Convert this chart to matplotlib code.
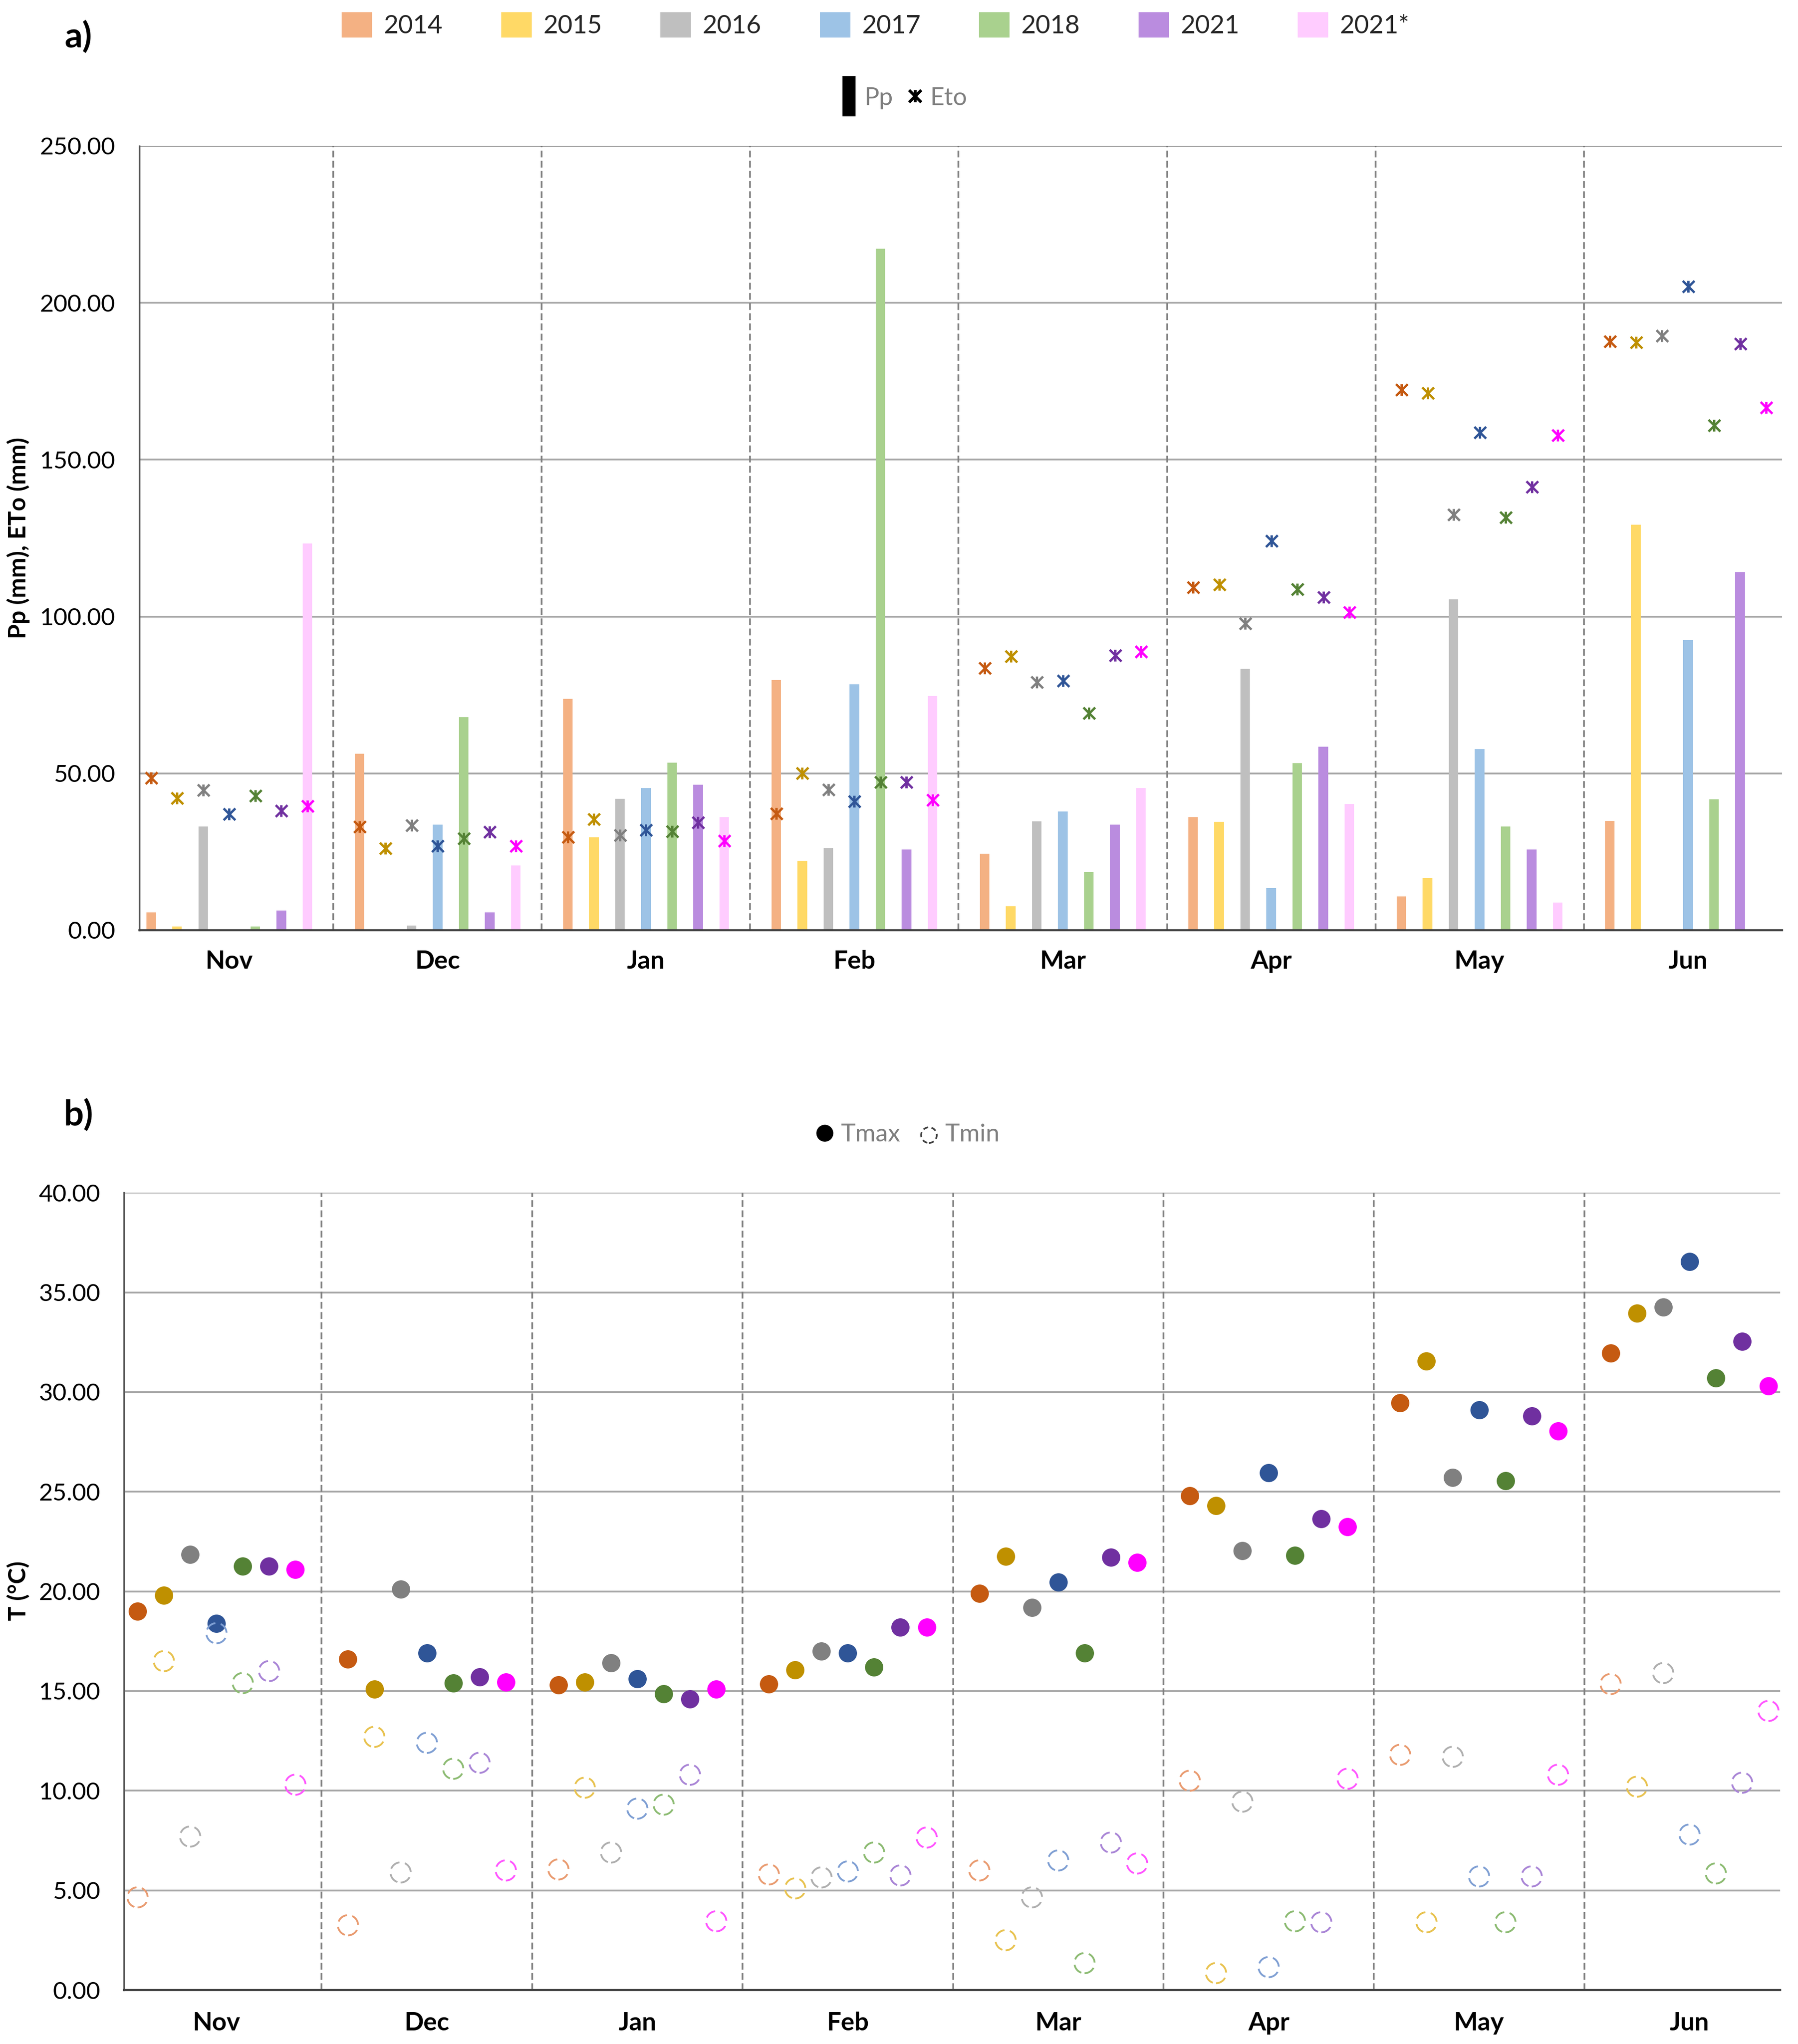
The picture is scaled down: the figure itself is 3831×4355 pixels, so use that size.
import numpy as np
import matplotlib
matplotlib.use("Agg")
import matplotlib.pyplot as plt
from matplotlib.lines import Line2D

plt.rcParams['font.family'] = ['Lato', 'DejaVu Sans']

months = ['Nov', 'Dec', 'Jan', 'Feb', 'Mar', 'Apr', 'May', 'Jun']
years = ['2014', '2015', '2016', '2017', '2018', '2021', '2021*']

# precipitation (mm), one row per year, Nov..Jun
pp = [
    [5.7, 56.2, 73.7, 79.8, 24.4, 36.0, 10.8, 34.9],
    [1.2, 0.0, 29.6, 22.1, 7.6, 34.5, 16.6, 129.3],
    [33.0, 1.5, 41.9, 26.2, 34.7, 83.4, 105.4, 0.0],
    [0.0, 33.7, 45.4, 78.4, 37.8, 13.5, 57.7, 92.4],
    [1.2, 67.9, 53.4, 217.3, 18.6, 53.3, 33.1, 41.8],
    [6.3, 5.7, 46.4, 25.8, 33.7, 58.5, 25.8, 114.1],
    [123.2, 20.6, 36.0, 74.7, 45.3, 40.2, 8.8, 0.0],
]
# reference evapotranspiration (mm)
eto = [
    [48.6, 33.0, 29.8, 37.3, 83.6, 109.4, 172.3, 187.7],
    [42.2, 26.2, 35.4, 50.1, 87.4, 110.2, 171.3, 187.4],
    [44.7, 33.5, 30.3, 44.9, 79.1, 97.8, 132.5, 189.5],
    [37.1, 26.9, 32.0, 41.1, 79.6, 124.1, 158.7, 205.2],
    [42.9, 29.3, 31.5, 47.3, 69.2, 108.7, 131.7, 161.0],
    [38.2, 31.4, 34.4, 47.3, 87.7, 106.2, 141.4, 187.0],
    [39.6, 26.9, 28.5, 41.6, 88.8, 101.4, 157.9, 166.6],
]
# temperatures (degC)
tmax = [
    [19.0, 16.6, 15.3, 15.35, 19.9, 24.8, 29.45, 31.95],
    [19.8, 15.1, 15.45, 16.05, 21.75, 24.3, 31.55, 33.95],
    [21.85, 20.1, 16.4, 17.0, 19.2, 22.05, 25.7, 34.25],
    [18.4, 16.9, 15.6, 16.9, 20.45, 25.95, 29.1, 36.55],
    [21.25, 15.4, 14.85, 16.2, 16.9, 21.8, 25.55, 30.7],
    [21.25, 15.7, 14.6, 18.2, 21.7, 23.65, 28.8, 32.55],
    [21.1, 15.45, 15.1, 18.2, 21.45, 23.25, 28.05, 30.3],
]
tmin = [
    [4.65, 3.25, 6.05, 5.8, 6.0, 10.5, 11.8, 15.35],
    [16.5, 12.7, 10.15, 5.1, 2.5, 0.85, 3.4, 10.2],
    [7.7, 5.9, 6.9, 5.65, 4.65, 9.45, 11.7, 15.9],
    [17.9, 12.4, 9.1, 5.95, 6.5, 1.15, 5.7, 7.8],
    [15.4, 11.1, 9.3, 6.9, 1.35, 3.45, 3.4, 5.85],
    [16.0, 11.4, 10.8, 5.75, 7.4, 3.4, 5.7, 10.4],
    [10.3, 6.0, 3.45, 7.65, 6.35, 10.6, 10.8, 14.0],
]

bar_col = ['#F4B183', '#FFD966', '#BFBFBF', '#9DC3E6', '#A9D18E', '#BA8CDF', '#FFCCFF']
dark_col = ['#C55A11', '#BF9000', '#808080', '#2F5597', '#548235', '#7030A0', '#FF00FF']
min_col = ['#E99B70', '#E8C24F', '#AFAFAF', '#7F9FD3', '#8CBB72', '#A985D6', '#FF55FF']

x = np.arange(len(months))
step = 0.125

fig = plt.figure(figsize=(38.31, 43.55), dpi=100)
ax_a = fig.add_axes([0.0775, 0.5449, 0.9135, 0.3837])
ax_b = fig.add_axes([0.0689, 0.0264, 0.9211, 0.3901])


def style_axis(ax, ymax, ystep, xl, ypad, xpad):
    ax.set_xlim(*xl)
    ax.set_ylim(0, ymax)
    ax.set_yticks(np.arange(0, ymax + 0.1, ystep))
    ax.yaxis.set_major_formatter(matplotlib.ticker.FormatStrFormatter('%.2f'))
    ax.set_xticks(x)
    ax.set_xticklabels(months, fontsize=39, fontweight='bold')
    ax.tick_params(axis='y', length=0, pad=ypad, labelsize=37)
    ax.tick_params(axis='x', length=0, pad=xpad)
    ax.set_axisbelow(True)
    ax.yaxis.grid(True, color='#A6A6A6', lw=2.7)
    for s in ['top', 'right']:
        ax.spines[s].set_visible(False)
    ax.spines['left'].set_color('#595959')
    ax.spines['left'].set_linewidth(2.5)
    ax.spines['bottom'].set_color('#404040')
    ax.spines['bottom'].set_linewidth(3.2)
    ax.spines['bottom'].set_zorder(5)
    for k in range(len(months) - 1):
        ax.axvline(k + 0.5, color='#7F7F7F', lw=2.6, ls=(0, (4, 2)), zorder=1)


# ---- panel a: Pp bars + ETo markers (x with a vertical stroke)
bars = []
for i, yr in enumerate(years):
    off = (i - 3) * step
    b = ax_a.bar(x + off, pp[i], width=0.046, color=bar_col[i], label=yr, zorder=2)
    bars.append(b)
    ax_a.plot(x + off, eto[i], ls='none', marker='x', ms=18, mew=3.6,
              color=dark_col[i], zorder=3)
    ax_a.plot(x + off, eto[i], ls='none', marker='|', ms=18, mew=3.6,
              color=dark_col[i], zorder=3)
style_axis(ax_a, 250, 50, (-0.431, 7.45), 37, 30)

# ---- panel b: Tmax / Tmin
for i, yr in enumerate(years):
    off = (i - 3) * step
    ax_b.plot(x + off, tmax[i], ls='none', marker='o', ms=28, mew=0,
              color=dark_col[i], zorder=3)
    ax_b.scatter(x + off, tmin[i], s=31 ** 2, facecolors='none', edgecolors=min_col[i],
                 linewidths=2.8, linestyles=[(0, (6, 3))], zorder=3)
style_axis(ax_b, 40, 5, (-0.44, 7.43), 36, 33)

# ---- legends
fig.legend(handles=bars, labels=years, loc='center', bbox_to_anchor=(0.487, 0.9878),
           ncol=7, frameon=False, fontsize=39, handlelength=1.2, handleheight=1.15,
           handletextpad=0.45, columnspacing=2.3, labelcolor='#262626')

h_pp = Line2D([], [], ls='none', marker='|', ms=62, mew=20, color='black')
h_eto_x = Line2D([], [], ls='none', marker='x', ms=19, mew=4.5, color='black')
h_eto_v = Line2D([], [], ls='none', marker='|', ms=19, mew=4.5, color='black')
fig.legend(handles=[h_pp, (h_eto_x, h_eto_v)], labels=['Pp', 'Eto'], loc='center',
           bbox_to_anchor=(0.503, 0.952), ncol=2, frameon=False, fontsize=38,
           handlelength=0.6, handletextpad=0.3, columnspacing=0.6, labelcolor='#7F7F7F')

h_tmax = Line2D([], [], ls='none', marker='o', ms=26, mew=0, color='black')
h_tmin = ax_b.scatter([], [], s=24 ** 2, facecolors='none', edgecolors='#404040',
                      linewidths=2.6, linestyles=[(0, (3, 2))])
fig.legend(handles=[h_tmax, h_tmin], labels=['Tmax', 'Tmin'], loc='center',
           bbox_to_anchor=(0.505, 0.4448), ncol=2, frameon=False, fontsize=38,
           handlelength=0.7, handletextpad=0.3, columnspacing=0.8, labelcolor='#7F7F7F')

# ---- labels
fig.text(0.0435, 0.982, 'a)', fontsize=54, fontweight='bold', ha='center', va='center')
fig.text(0.0435, 0.4544, 'b)', fontsize=54, fontweight='bold', ha='center', va='center')
fig.text(0.0102, 0.7368, 'Pp (mm), ETo (mm)', rotation=90, fontsize=37,
         fontweight='bold', ha='center', va='center')
fig.text(0.0102, 0.2216, 'T (°C)', rotation=90, fontsize=37,
         fontweight='bold', ha='center', va='center')

fig.savefig('out.png', dpi=100)
